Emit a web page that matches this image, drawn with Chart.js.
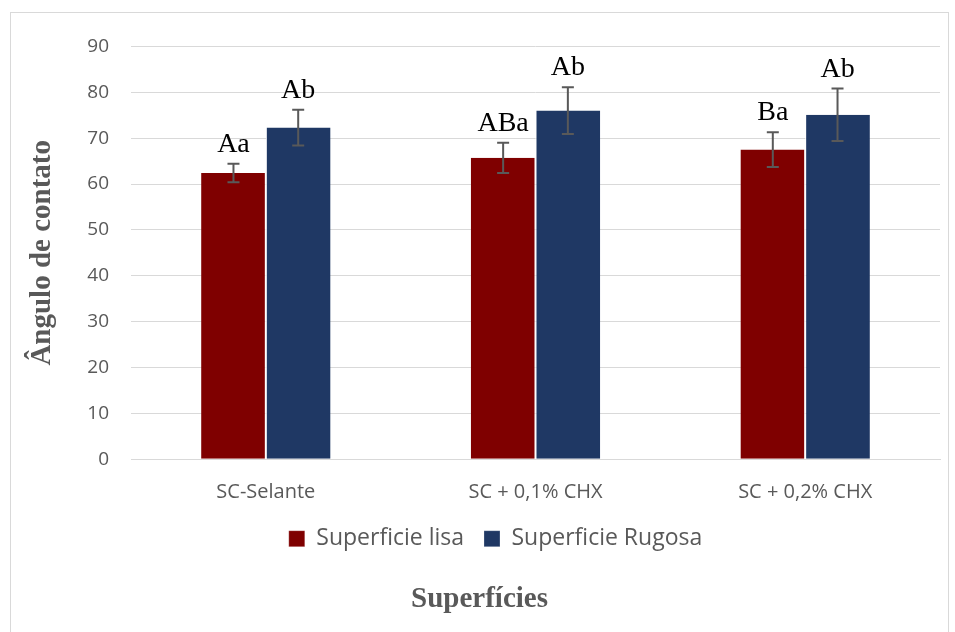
<!DOCTYPE html>
<html>
<head>
<meta charset="utf-8">
<script src="https://cdn.jsdelivr.net/npm/chart.js@4/dist/chart.umd.min.js"></script>
<style>
  body { margin: 0; background: #fff; }
  #box { position: absolute; left: 10px; top: 12px; width: 939px; height: 630px; border: 1px solid #d9d9d9; box-sizing: border-box; }
</style>
</head>
<body>
<div id="box"><canvas id="mycanvas"></canvas></div>
<script>
let categories = ["SC-Selante", "SC + 0,1% CHX", "SC + 0,2% CHX"];
let lisaValues = [62.4, 65.7, 67.5];
let lisaErrors = [2.0, 3.3, 3.8];
let lisaLetters = ["Aa", "ABa", "Ba"];
let rugosaValues = [72.3, 76.0, 75.1];
let rugosaErrors = [3.9, 5.1, 5.7];
let rugosaLetters = ["Ab", "Ab", "Ab"];
let yTicks = [0, 10, 20, 30, 40, 50, 60, 70, 80, 90];

let errorsByDataset = [lisaErrors, rugosaErrors];
let lettersByDataset = [lisaLetters, rugosaLetters];

// error bars + significance letters, placed through the y scale
let errorBarPlugin = {
  id: "errorBars",
  afterLayout(chart) {
    // pull the legend closer to the axis labels, nudge it right like Excel does
    chart.legend.top -= 18;
    chart.legend.bottom -= 18;
    chart.legend.left += 16;
    chart.legend.right += 16;
  },
  afterDatasetsDraw(chart) {
    let ctx = chart.ctx;
    let yScale = chart.scales.y;
    chart.data.datasets.forEach((ds, di) => {
      let meta = chart.getDatasetMeta(di);
      meta.data.forEach((bar, i) => {
        let v = ds.data[i];
        let err = errorsByDataset[di][i];
        let top = yScale.getPixelForValue(v + err);
        let bottom = yScale.getPixelForValue(v - err);
        let x = bar.x;
        ctx.save();
        ctx.strokeStyle = "#595959";
        ctx.lineWidth = 2;
        ctx.beginPath();
        ctx.moveTo(x, top); ctx.lineTo(x, bottom);
        ctx.moveTo(x - 6, top); ctx.lineTo(x + 6, top);
        ctx.moveTo(x - 6, bottom); ctx.lineTo(x + 6, bottom);
        ctx.stroke();
        ctx.fillStyle = "#000";
        ctx.font = "28px 'Liberation Serif'";
        ctx.textAlign = "center";
        ctx.textBaseline = "alphabetic";
        ctx.fillText(lettersByDataset[di][i], x, top - 12);
        ctx.restore();
      });
    });
  }
};

let canvas = document.getElementById("mycanvas");

let chartData = {
  labels: categories,
  datasets: [
    {
      label: "Superficie lisa",
      data: lisaValues,
      backgroundColor: "#7f0000",
      borderColor: "#ffffff",
      borderWidth: { left: 0, right: 1, top: 0, bottom: 0 },
    },
    {
      label: "Superficie Rugosa",
      data: rugosaValues,
      backgroundColor: "#1f3864",
      borderColor: "#ffffff",
      borderWidth: { left: 1, right: 0, top: 0, bottom: 0 },
    },
  ],
};

let chartOptions = {
  responsive: true,
  maintainAspectRatio: false,
  animation: false,
  layout: { padding: { top: 9, right: 8, left: 8, bottom: 6 } },
  datasets: {
    bar: { categoryPercentage: 0.48, barPercentage: 1.0 },
  },
  scales: {
    x: {
      grid: { display: false, drawTicks: false },
      border: { color: "#d9d9d9" },
      ticks: { color: "#595959", font: { family: "'Open Sans'", size: 20 }, padding: 21 },
    },
    y: {
      min: 0,
      max: 90,
      afterBuildTicks: (scale) => { scale.ticks = yTicks.map(v => ({ value: v })); },
      afterFit: (scale) => { scale.width = 112; },
      grid: { color: "#d9d9d9", drawTicks: false },
      border: { display: false },
      ticks: { color: "#595959", font: { family: "'Open Sans'", size: 19 }, padding: 22 },
      title: {
        display: true,
        text: "Ângulo de contato",
        color: "#595959",
        font: { family: "'Liberation Serif'", size: 29, weight: "bold" },
        padding: { top: 6, bottom: 4 },
      },
    },
  },
  plugins: {
    legend: {
      position: "bottom",
      labels: {
        color: "#595959",
        font: { family: "'Open Sans'", size: 23 },
        boxWidth: 16,
        boxHeight: 16,
        padding: 20,
      },
    },
    title: {
      display: true,
      position: "bottom",
      text: "Superfícies",
      color: "#595959",
      font: { family: "'Liberation Serif'", size: 29, weight: "bold" },
      padding: { top: 4, bottom: 18 },
    },
    tooltip: { enabled: false },
  },
};

new Chart(canvas, {
  type: "bar",
  data: chartData,
  options: chartOptions,
  plugins: [errorBarPlugin],
});
</script>
</body>
</html>
